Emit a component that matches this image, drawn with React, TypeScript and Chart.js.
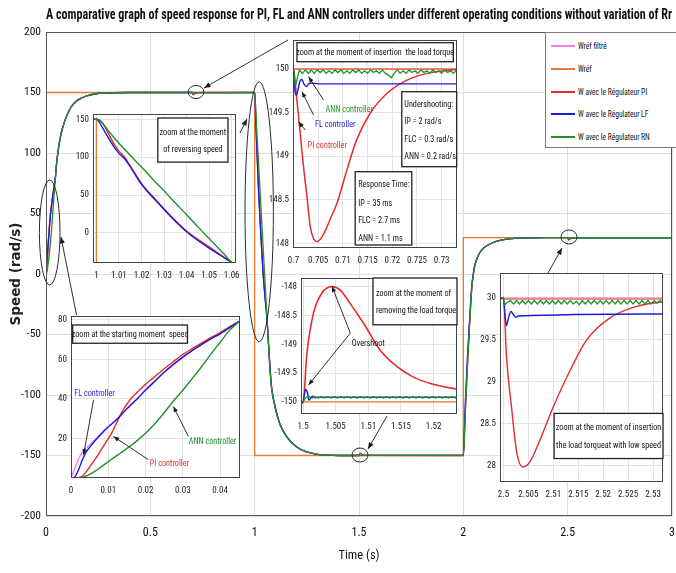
import React, { useEffect, useRef } from "react";
import { Chart, registerables } from "chart.js";

Chart.register(...registerables);

const NARROW = "'Liberation Sans Narrow', 'Arial Narrow', 'Roboto Condensed', 'DejaVu Sans Condensed', sans-serif";
const WIDE = "'DejaVu Sans', Verdana, sans-serif";
const K = 0.86; // horizontal condensing of annotation text

const C_FILT = "#f07ff0";
const C_REF = "#e5793c";
const C_PI = "#e52b2b";
const C_LF = "#1c1cdc";
const C_RN = "#21902a";

const TITLE = "A comparative graph of speed response for PI, FL and ANN controllers under different operating conditions without variation of Rr";
const legendLabels = ["Wréf filtré", "Wréf", "W avec le Régulateur PI", "W avec le Régulateur LF", "W avec le Régulateur RN"];
const legendColors = [C_FILT, C_REF, C_PI, C_LF, C_RN];

// ================= MAIN CHART DATA =================
const mainT = [0, 0.005, 0.01, 0.015, 0.02, 0.025, 0.03, 0.035, 0.04, 0.045, 0.05, 0.06, 0.07, 0.08, 0.1, 0.12, 0.15, 0.2, 0.25, 0.3, 0.4,
  0.7, 0.705, 0.72, 0.75,
  1.0, 1.005, 1.01, 1.02, 1.03, 1.04, 1.05, 1.06, 1.07, 1.08, 1.1, 1.12, 1.15, 1.2, 1.25, 1.3, 1.35, 1.4,
  1.5, 1.505, 1.52, 1.55,
  2.0, 2.005, 2.01, 2.02, 2.03, 2.04, 2.05, 2.06, 2.08, 2.1, 2.15, 2.2, 2.25, 2.3, 2.4,
  2.5, 2.504, 2.52, 2.55, 3.0];
const mainRN = [0, 2, 8.2, 15, 23.5, 33.4, 44.5, 56.3, 68.5, 79.6, 90, 104, 114, 121, 131, 138, 143.5, 147.5, 149.2, 149.8, 150,
  150, 149.95, 149.97, 149.97,
  150, 136, 118.5, 87, 55.5, 24, -7.5, -39, -70, -93, -112, -124, -134, -143, -147, -149, -149.7, -150,
  -150, -149.92, -149.92, -149.92,
  -149.92, -135, -112, -75, -42, -13, 2, 10, 18, 22, 26.5, 28.6, 29.5, 29.9, 30,
  30, 29.95, 29.96, 29.96, 29.96];
const mainLF = [0, 12.5, 24.5, 35, 46, 54, 61.2, 67.5, 73, 79.6, 90, 104, 114, 121, 131, 138, 143.5, 147.5, 149.2, 149.8, 150,
  150, 149.83, 149.83, 149.83,
  149.83, 127, 105, 64, 31, 1.5, -20, -39, -68, -92, -111, -123.5, -133.5, -142.8, -147, -149, -149.7, -150,
  -150, -149.92, -149.92, -149.92,
  -149.92, -128, -105, -68, -38, -11, 3, 10.5, 18, 22, 26.5, 28.6, 29.5, 29.9, 30,
  30, 29.8, 29.8, 29.8, 29.8];
const mainPI = [0, 6, 19.5, 37.5, 47.4, 55.3, 62.5, 68.3, 73.6, 79.6, 90, 104, 114, 121, 131, 138, 143.5, 147.5, 149.2, 149.8, 150,
  150, 148.02, 149.8, 150,
  150, 133, 108, 65.4, 32, 2.6, -18.5, -39, -68, -92, -111, -123.5, -133.5, -142.8, -147, -149, -149.7, -150,
  -150, -148.0, -149.6, -149.9,
  -150, -135, -112, -75, -42, -13, 2, 10, 18, 22, 26.5, 28.6, 29.5, 29.9, 30,
  30, 28.0, 29.7, 29.97, 30];
const mainFilt = [0, 16.8, 25.5, 35, 46, 54, 61.2, 67.5, 73, 79.6, 90, 104, 114, 121, 131, 138, 143.5, 147.5, 149.2, 149.8, 150,
  150, 150, 150, 150,
  150, 127, 105, 64, 31, 1.5, -20, -39, -68, -92, -111, -123.5, -133.5, -142.8, -147, -149, -149.7, -150,
  -150, -150, -150, -150,
  -150, -128, -105, -68, -38, -11, 3, 10.5, 18, 22, 26.5, 28.6, 29.5, 29.9, 30,
  30, 30, 30, 30, 30];
const refT = [0, 0, 1, 1, 2, 2, 3];
const refW = [0, 150, 150, -150, -150, 30, 30];
const mainXTicks = [0, 0.5, 1, 1.5, 2, 2.5, 3];
const mainYTicks = [-200, -150, -100, -50, 0, 50, 100, 150, 200];

// ================= INSET: reversing speed =================
const revT = [0.998, 1.0, 1.0025, 1.005, 1.0075, 1.01, 1.0125, 1.015, 1.02, 1.025, 1.03, 1.035, 1.04, 1.045, 1.05, 1.055, 1.06, 1.065];
const revRN = [150, 150, 145.5, 136, 127, 118.5, 110.5, 102.5, 87, 71, 55.5, 39.5, 24, 8, -7.5, -23, -39, -55];
const revLF = [150, 150, 140, 127, 115, 105, 98, 87.5, 64, 47, 31, 15.5, 1.5, -10, -20, -29.5, -39, -48];
const revPI = [150, 150, 146, 133, 119, 108, 100, 88.5, 65.4, 48, 32, 16.5, 2.6, -8.5, -18.5, -29, -39, -48];
const revRefT = [0.99, 1, 1, 1.07];
const revRefW = [150, 150, -150, -150];
const revXTicks = [1, 1.01, 1.02, 1.03, 1.04, 1.05, 1.06];
const revYTicks = [0, 50, 100, 150];

// ================= INSET: starting moment =================
const startT = [0, 0.001, 0.002, 0.003, 0.004, 0.005, 0.0065, 0.008, 0.0095, 0.011, 0.0125, 0.014, 0.016, 0.018, 0.02, 0.0225, 0.025, 0.0275, 0.03, 0.0325, 0.035, 0.0375, 0.04, 0.0425, 0.0454, 0.047];
const startRN = [0, 0, 0.1, 0.3, 0.9, 1.8, 3.5, 5.5, 7.5, 9.6, 11.6, 13.6, 16.3, 19.3, 22.6, 27.5, 33, 39, 44.4, 50.3, 56.2, 62.6, 68.6, 74.6, 79.6, 82.5];
const startLF = [0, 0.5, 4, 9, 13, 15.5, 19, 22, 25, 27.5, 30, 33, 37, 40.5, 44.5, 49, 53.5, 57.5, 61.2, 64.5, 67.5, 70.4, 73, 76, 79.6, 81.5];
const startPI = [0, 0, 0.2, 0.8, 3, 5.5, 9.5, 14, 18.5, 23, 29, 34.5, 40, 43.8, 47.4, 51.3, 55.3, 59, 62.5, 65.5, 68.3, 71, 73.6, 76.5, 79.6, 81.5];
const startFilt = [0, 4.8, 9.5, 13, 15, 16.8, 19.5, 22.3, 25.1, 27.6, 30, 33, 37, 40.5, 44.5, 49, 53.5, 57.5, 61.2, 64.5, 67.5, 70.4, 73, 76, 79.6, 81.5];
const startRefT = [0, 0, 0.05];
const startRefW = [0, 150, 150];
const startXTicks = [0, 0.01, 0.02, 0.03, 0.04];
const startYTicks = [20, 40, 60, 80];

// ================= INSET: load torque insertion (t = 0.7) =================
const insPI_T = [0.6995, 0.7, 0.7005, 0.7011, 0.7016, 0.7021, 0.7027, 0.7034, 0.7041, 0.7048, 0.7056, 0.7064, 0.7076, 0.7088, 0.7108, 0.7128, 0.7155, 0.7189, 0.7229, 0.727, 0.7336];
const insPI = [150, 150, 149.75, 149.41, 149.12, 148.84, 148.55, 148.19, 148.05, 148.02, 148.06, 148.14, 148.3, 148.46, 148.84, 149.19, 149.49, 149.72, 149.87, 149.95, 150.0];
const insLF_T = [0.6995, 0.7, 0.7003, 0.7006, 0.7009, 0.7013, 0.7017, 0.7021, 0.7026, 0.7031, 0.7036, 0.705, 0.7336];
const insLF = [150, 150, 149.75, 149.7, 149.76, 149.86, 149.88, 149.83, 149.8, 149.83, 149.84, 149.83, 149.83];
const insRN_T = [0.6995, 0.7, 0.7004, 0.7008, 0.7012,
  0.7018, 0.7024, 0.703, 0.7036, 0.7042, 0.7048, 0.7054, 0.706, 0.7066, 0.7072, 0.7078, 0.7084, 0.709, 0.7096, 0.7102, 0.7108, 0.7114, 0.712,
  0.7126, 0.7132, 0.7138, 0.7144, 0.715, 0.7156, 0.7162, 0.7168, 0.7174, 0.718, 0.7186, 0.7192, 0.7198, 0.7204, 0.721, 0.7216, 0.7222, 0.7228,
  0.7234, 0.724, 0.7246, 0.7252, 0.7258, 0.7264, 0.727, 0.7276, 0.7282, 0.7288, 0.7294, 0.73, 0.7306, 0.7312, 0.7318, 0.7324, 0.733, 0.7336];
const insRN = [150, 150, 149.8, 149.9, 149.99,
  149.95, 149.99, 149.95, 149.99, 149.95, 149.99, 149.96, 149.99, 149.95, 149.98, 149.95, 149.99, 149.96, 149.99, 149.95, 149.98, 149.95, 149.99,
  149.96, 149.99, 149.95, 149.98, 149.95, 149.99, 149.96, 149.98, 149.95, 149.99, 149.95, 149.93, 149.9, 149.95, 149.99, 149.95, 149.98, 149.95,
  149.99, 149.96, 149.98, 149.95, 149.99, 149.96, 149.98, 149.95, 149.99, 149.96, 149.98, 149.95, 149.99, 149.96, 149.98, 149.95, 149.99, 149.96];
const insRefT = [0.69, 0.74];
const insRefW = [150, 150];
const insXTicks = [0.7, 0.705, 0.71, 0.715, 0.72, 0.725, 0.73];
const insYTicks = [148, 148.5, 149, 149.5, 150];

// ================= INSET: load torque removal (t = 1.5) =================
const remPI_T = [1.4995, 1.5, 1.5006, 1.5016, 1.5029, 1.5044, 1.5057, 1.5072, 1.5093, 1.5118, 1.5144, 1.5169, 1.5195, 1.524];
const remPI = [-150, -150, -149.16, -148.46, -148.11, -148.0, -148.06, -148.29, -148.64, -149.1, -149.39, -149.57, -149.68, -149.79];
const remLF_T = [1.4995, 1.5, 1.5002, 1.5004, 1.5007, 1.5009, 1.5012, 1.5015, 1.5018, 1.5022, 1.524];
const remLF = [-150.04, -150.0, -149.88, -149.78, -149.85, -149.97, -149.93, -149.9, -149.93, -149.92, -149.92];
const remRN_T = [1.4995, 1.5, 1.5004, 1.5008,
  1.5013, 1.5018, 1.5023, 1.5028, 1.5033, 1.5038, 1.5043, 1.5048, 1.5053, 1.5058, 1.5063, 1.5068, 1.5073, 1.5078, 1.5083, 1.5088,
  1.5093, 1.5098, 1.5103, 1.5108, 1.5113, 1.5118, 1.5123, 1.5128, 1.5133, 1.5138, 1.5143, 1.5148, 1.5153, 1.5158, 1.5163, 1.5168,
  1.5173, 1.5178, 1.5183, 1.5188, 1.5193, 1.5198, 1.5203, 1.5208, 1.5213, 1.5218, 1.5223, 1.5228, 1.5233, 1.5238];
const remRN = [-150, -150, -149.93, -149.9,
  -149.935, -149.91, -149.935, -149.91, -149.935, -149.91, -149.935, -149.91, -149.935, -149.91, -149.935, -149.91, -149.935, -149.91, -149.935, -149.91,
  -149.935, -149.91, -149.935, -149.91, -149.935, -149.91, -149.935, -149.91, -149.935, -149.91, -149.935, -149.91, -149.935, -149.91, -149.935, -149.91,
  -149.935, -149.91, -149.935, -149.91, -149.935, -149.91, -149.935, -149.91, -149.935, -149.91, -149.935, -149.91, -149.935, -149.91];
const remRefT = [1.49, 1.53];
const remRefW = [-150, -150];
const remXTicks = [1.5, 1.505, 1.51, 1.515, 1.52];
const remYTicks = [-150, -149.5, -149, -148.5, -148];

// ================= INSET: low-speed load insertion (t = 2.5) =================
const lowPI_T = [2.499, 2.5, 2.5006, 2.5016, 2.5027, 2.5039, 2.5053, 2.5073, 2.51, 2.5134, 2.5167, 2.5213, 2.5267, 2.5325];
const lowPI = [30, 30, 29.3, 28.7, 28.14, 27.98, 28.04, 28.3, 28.7, 29.14, 29.5, 29.76, 29.9, 29.96];
const lowLF_T = [2.499, 2.5, 2.5003, 2.5006, 2.501, 2.5015, 2.502, 2.5025, 2.503, 2.5325];
const lowLF = [30, 30, 29.8, 29.67, 29.76, 29.84, 29.8, 29.77, 29.785, 29.81];
const lowRN_T = [2.499, 2.5, 2.5003, 2.5008,
  2.5014, 2.502, 2.5026, 2.5032, 2.5038, 2.5044, 2.505, 2.5056, 2.5062, 2.5068, 2.5074, 2.508, 2.5086, 2.5092, 2.5098, 2.5104, 2.511,
  2.5116, 2.5122, 2.5128, 2.5134, 2.514, 2.5146, 2.5152, 2.5158, 2.5164, 2.517, 2.5176, 2.5182, 2.5188, 2.5194, 2.52, 2.5206, 2.5212,
  2.5218, 2.5224, 2.523, 2.5236, 2.5242, 2.5248, 2.5254, 2.526, 2.5266, 2.5272, 2.5278, 2.5284, 2.529, 2.5296, 2.5302, 2.5308, 2.5314, 2.532, 2.5326];
const lowRN = [30, 30, 29.92, 29.95,
  29.97, 29.93, 29.97, 29.93, 29.97, 29.93, 29.97, 29.93, 29.97, 29.93, 29.97, 29.93, 29.97, 29.93, 29.97, 29.93, 29.97,
  29.93, 29.97, 29.93, 29.97, 29.93, 29.96, 29.92, 29.97, 29.93, 29.97, 29.93, 29.97, 29.93, 29.97, 29.93, 29.97, 29.93,
  29.97, 29.93, 29.97, 29.93, 29.97, 29.93, 29.97, 29.93, 29.97, 29.93, 29.97, 29.93, 29.97, 29.93, 29.97, 29.94, 29.97, 29.94, 29.97];
const lowFiltT = [2.49, 2.54];
const lowFilt = [29.985, 29.985];
const lowRefT = [2.49, 2.54];
const lowRefW = [30, 30];
const lowXTicks = [2.5, 2.505, 2.51, 2.515, 2.52, 2.525, 2.53];
const lowYTicks = [28, 28.5, 29, 29.5, 30];

// ================= helpers =================
const fmt = (v: any) => String(Number(Number(v).toFixed(4)));

function line(xs: number[], ys: number[], color: string, width: number, smooth = true) {
  return {
    data: xs.map((x, i) => ({ x, y: ys[i] })),
    borderColor: color,
    backgroundColor: color,
    borderWidth: width,
    pointRadius: 0,
    fill: false,
    tension: 0,
    cubicInterpolationMode: smooth ? "monotone" : "default",
  };
}

function drawArrow(ctx: CanvasRenderingContext2D, x1: number, y1: number, x2: number, y2: number, head: number) {
  ctx.beginPath();
  ctx.moveTo(x1, y1);
  ctx.lineTo(x2, y2);
  ctx.stroke();
  const a = Math.atan2(y2 - y1, x2 - x1);
  ctx.beginPath();
  ctx.moveTo(x2, y2);
  ctx.lineTo(x2 - head * Math.cos(a - 0.38), y2 - head * Math.sin(a - 0.38));
  ctx.lineTo(x2 - head * Math.cos(a + 0.38), y2 - head * Math.sin(a + 0.38));
  ctx.closePath();
  ctx.fill();
}

function condensedText(ctx: CanvasRenderingContext2D, t: string, x: number, y: number, align: CanvasTextAlign) {
  ctx.save();
  ctx.translate(x, y);
  ctx.scale(K, 1);
  ctx.textAlign = align;
  ctx.textBaseline = "middle";
  ctx.fillText(t, 0, 0);
  ctx.restore();
}

function makeAnn(cfg: any, whiteBg: boolean) {
  return {
    id: "annot",
    beforeDraw(chart: any) {
      if (!whiteBg) return;
      const { ctx, chartArea: a } = chart;
      ctx.save();
      ctx.fillStyle = "#ffffff";
      ctx.fillRect(a.left, a.top, a.right - a.left, a.bottom - a.top);
      ctx.restore();
    },
    afterDatasetsDraw(chart: any) {
      const { ctx, chartArea: a, scales } = chart;
      const fx = (f: number) => a.left + f * (a.right - a.left);
      const fy = (f: number) => a.top + f * (a.bottom - a.top);
      const dx = (v: number) => scales.x.getPixelForValue(v);
      const dy = (v: number) => scales.y.getPixelForValue(v);
      ctx.save();
      ctx.strokeStyle = cfg.frame || "#444";
      ctx.lineWidth = 1;
      ctx.strokeRect(Math.round(a.left) + 0.5, Math.round(a.top) + 0.5, Math.round(a.right - a.left) - 1, Math.round(a.bottom - a.top) - 1);

      ctx.strokeStyle = "#2a2a2a";
      ctx.lineWidth = 1;
      (cfg.ellipses || []).forEach((e: any) => {
        const cx = dx(e.x), cy = dy(e.y);
        const rx = Math.abs(dx(e.x + e.rx) - cx), ry = Math.abs(dy(e.y + e.ry) - cy);
        ctx.beginPath();
        ctx.ellipse(cx, cy, rx, ry, 0, 0, Math.PI * 2);
        ctx.stroke();
      });

      (cfg.boxes || []).forEach((b: any) => {
        const x0 = fx(b.x0), y0 = fy(b.y0), x1 = fx(b.x1), y1 = fy(b.y1);
        ctx.fillStyle = "#ffffff";
        ctx.fillRect(x0, y0, x1 - x0, y1 - y0);
        ctx.strokeStyle = "#222";
        ctx.lineWidth = 1.3;
        ctx.strokeRect(x0, y0, x1 - x0, y1 - y0);
        ctx.fillStyle = "#111";
        ctx.font = `${b.size || 9}px ${NARROW}`;
        const left = b.align === "left";
        const tx = left ? fx(b.tx) : (x0 + x1) / 2;
        b.lines.forEach((t: string, i: number) => condensedText(ctx, t, tx, fy(b.ly[i]), left ? "left" : "center"));
      });

      (cfg.labels || []).forEach((l: any) => {
        ctx.fillStyle = l.color;
        ctx.font = `${l.size || 9.5}px ${NARROW}`;
        condensedText(ctx, l.text, fx(l.x), fy(l.y), "center");
      });

      ctx.strokeStyle = "#1a1a1a";
      ctx.fillStyle = "#1a1a1a";
      ctx.lineWidth = 0.9;
      (cfg.arrows || []).forEach((r: any) => {
        const p = cfg.arrowData
          ? [dx(r.from[0]), dy(r.from[1]), dx(r.to[0]), dy(r.to[1])]
          : [fx(r.from[0]), fy(r.from[1]), fx(r.to[0]), fy(r.to[1])];
        drawArrow(ctx, p[0], p[1], p[2], p[3], cfg.head || 6);
      });
      ctx.restore();
    },
  };
}

const noPadX = (h: number) => (s: any) => { s.height = h; s.paddingLeft = 0; s.paddingRight = 0; };
const noPadY = (w: number) => (s: any) => { s.width = w; s.paddingTop = 0; s.paddingBottom = 0; };

// ================= main config =================
const mainAnn = {
  frame: "#555",
  arrowData: true,
  head: 7,
  ellipses: [
    { x: 0.0177, y: 34.3, rx: 0.0494, ry: 43.4 },
    { x: 1.0217, y: 51.4, rx: 0.068, ry: 107.4 },
    { x: 0.7188, y: 150.4, rx: 0.0383, ry: 5.4 },
    { x: 1.5048, y: -149.6, rx: 0.0383, ry: 5.8 },
    { x: 2.5063, y: 30.6, rx: 0.0383, ry: 5.8 },
  ],
  arrows: [
    { from: [1.1597, 193.4], to: [0.7572, 153.7] },
    { from: [0.9297, 116.5], to: [0.9632, 128.1] },
    { from: [0.1462, -33.9], to: [0.0719, 30.6] },
    { from: [1.6342, -117.4], to: [1.5431, -144.6] },
    { from: [2.4058, 0.8], to: [2.4729, 21.5] },
  ],
};

function mainConfig() {
  const datasets = [
    line(mainT, mainRN, C_RN, 1.3),
    line(mainT, mainLF, C_LF, 1.3),
    line(mainT, mainPI, C_PI, 1.3),
    line(refT, refW, C_REF, 1.3, false),
    line(mainT, mainFilt, C_FILT, 1.3),
  ];
  return {
    type: "line",
    data: { datasets },
    options: {
      responsive: false,
      animation: false,
      devicePixelRatio: 1,
      layout: { padding: { left: 0, right: 4, top: 0, bottom: 0 } },
      plugins: {
        legend: { display: false },
        tooltip: { enabled: false },
        title: {
          display: true,
          text: TITLE,
          fullSize: false,
          color: "#111",
          font: { family: NARROW, size: 15, weight: "bold", lineHeight: 1.2 },
          padding: { top: 6, bottom: 8 },
        },
      },
      scales: {
        x: {
          type: "linear",
          min: 0,
          max: 3,
          afterBuildTicks: (s: any) => { s.ticks = mainXTicks.map((value) => ({ value })); },
          afterFit: noPadX(57),
          grid: { color: "#dedede", drawTicks: false, lineWidth: 1 },
          border: { display: false },
          ticks: { padding: 10, color: "#111", font: { family: NARROW, size: 12 }, callback: fmt, maxRotation: 0 },
          title: { display: true, text: "Time (s)", color: "#111", font: { family: NARROW, size: 12.5, lineHeight: 1.2 }, padding: { top: 0, bottom: 9.5 } },
        },
        y: {
          type: "linear",
          min: -200,
          max: 200,
          afterBuildTicks: (s: any) => { s.ticks = mainYTicks.map((value) => ({ value })); },
          afterFit: noPadY(46),
          grid: { color: "#dedede", drawTicks: false, lineWidth: 1 },
          border: { display: false },
          ticks: { padding: 5, color: "#111", font: { family: NARROW, size: 11.5 }, callback: fmt },
          title: { display: true, text: "Speed (rad/s)", color: "#222", font: { family: WIDE, size: 13.5, weight: "bold", lineHeight: 1.2 }, padding: { top: 8, bottom: 0 } },
        },
      },
    },
    plugins: [makeAnn(mainAnn, false)],
  };
}

// ================= inset configs =================
type Rect = { l: number; t: number; r: number; b: number };
const YW = 26, XH = 22, PT = 4, PR = 8;

function insetSpec(rect: Rect, xr: number[], yr: number[], xTicks: number[], yTicks: number[], makeDatasets: () => any[], ann: any) {
  const w = rect.r - rect.l, h = rect.b - rect.t;
  return {
    left: rect.l - YW,
    top: rect.t - PT,
    width: w + YW + PR,
    height: h + PT + XH,
    make: () => ({
      type: "line",
      data: { datasets: makeDatasets() },
      options: {
        responsive: false,
        animation: false,
        devicePixelRatio: 1,
        layout: { padding: { left: 0, right: PR, top: PT, bottom: 0 } },
        plugins: { legend: { display: false }, tooltip: { enabled: false }, title: { display: false } },
        scales: {
          x: {
            type: "linear",
            min: xr[0],
            max: xr[1],
            afterBuildTicks: (s: any) => { s.ticks = xTicks.map((value) => ({ value })); },
            afterFit: noPadX(XH),
            grid: { color: "#e2e2e2", drawTicks: false },
            border: { display: false },
            ticks: { padding: 7, color: "#222", font: { family: NARROW, size: 9 }, callback: fmt, maxRotation: 0, autoSkip: false },
          },
          y: {
            type: "linear",
            min: yr[0],
            max: yr[1],
            afterBuildTicks: (s: any) => { s.ticks = yTicks.map((value) => ({ value })); },
            afterFit: noPadY(YW),
            grid: { color: "#e2e2e2", drawTicks: false },
            border: { display: false },
            ticks: { padding: 4, color: "#222", font: { family: NARROW, size: 9 }, callback: fmt, autoSkip: false },
          },
        },
      },
      plugins: [makeAnn(ann, true)],
    }),
  };
}

const insets = [
  // reversing speed
  insetSpec({ l: 93, t: 114, r: 236, b: 263 }, [0.99849, 1.0619], [-39.7, 157], revXTicks, revYTicks, () => [
    line(revT, revRN, C_RN, 1.4),
    line(revT, revLF, C_LF, 1.4),
    line(revT, revPI, C_PI, 1.4),
    line(revRefT, revRefW, C_REF, 1.4, false),
  ], {
    frame: "#444",
    boxes: [{ x0: 0.4534, y0: 0.0269, x1: 0.9439, y1: 0.3228, lines: ["zoom at the moment", "of reversing speed"], ly: [0.1278, 0.2421], size: 9.5 }],
  }),
  // starting moment
  insetSpec({ l: 71, t: 316, r: 240, b: 478 }, [0, 0.04536], [0, 82], startXTicks, startYTicks, () => [
    line(startT, startRN, C_RN, 1.4),
    line(startT, startLF, C_LF, 1.4),
    line(startT, startPI, C_PI, 1.4),
    line(startRefT, startRefW, C_REF, 1.4, false),
    line(startT, startFilt, C_FILT, 1.4),
  ], {
    frame: "#444",
    head: 6,
    boxes: [{ x0: 0.01, y0: 0.0555, x1: 0.689, y1: 0.1682, lines: ["zoom at the starting moment  speed"], ly: [0.1121], size: 9.5 }],
    labels: [
      { x: 0.1388, y: 0.4763, text: "FL controller", color: C_LF },
      { x: 0.5818, y: 0.9137, text: "PI controller", color: C_PI },
      { x: 0.8376, y: 0.7745, text: "ANN controller", color: C_RN },
    ],
    arrows: [
      { from: [0.1335, 0.5176], to: [0.0744, 0.8564] },
      { from: [0.4584, 0.8872], to: [0.2516, 0.7437] },
      { from: [0.6946, 0.7437], to: [0.606, 0.5588] },
    ],
  }),
  // load torque insertion
  insetSpec({ l: 293, t: 40, r: 457, b: 248 }, [0.6999, 0.7331], [147.947, 150.333], insXTicks, insYTicks, () => [
    line(insRN_T, insRN, C_RN, 1.3, false),
    line(insLF_T, insLF, C_LF, 1.4),
    line(insPI_T, insPI, C_PI, 1.5),
    line(insRefT, insRefW, C_REF, 1.4, false),
    line(insRefT, insRefW, C_FILT, 1.4, false),
  ], {
    frame: "#444",
    head: 6,
    boxes: [
      { x0: 0.0243, y0: 0.013, x1: 0.9775, y1: 0.1043, lines: ["zoom at the moment of insertion  the load torque"], ly: [0.0587], size: 9.5 },
      { x0: 0.6634, y0: 0.2486, x1: 0.9982, y1: 0.6091, lines: ["Undershooting:", "IP = 2 rad/s", "FLC = 0.3 rad/s", "ANN = 0.2 rad/s"], ly: [0.3125, 0.3928, 0.4808, 0.5611], align: "left", tx: 0.6786, size: 9.5 },
      { x0: 0.3792, y0: 0.6332, x1: 0.7243, y1: 0.9856, lines: ["Response Time:", "IP = 35 ms", "FLC = 2.7 ms", "ANN = 1.1 ms"], ly: [0.6971, 0.7851, 0.8688, 0.9534], align: "left", tx: 0.3974, size: 9.5 },
    ],
    labels: [
      { x: 0.3427, y: 0.3365, text: "ANN controller", color: C_RN },
      { x: 0.2575, y: 0.4087, text: "FL controller", color: C_LF },
      { x: 0.2088, y: 0.5096, text: "PI controller", color: C_PI },
    ],
    arrows: [
      { from: [0.1862, 0.2885], to: [0.0949, 0.1764] },
      { from: [0.1254, 0.3606], to: [0.0548, 0.2486] },
      { from: [0.0749, 0.4327], to: [0.0341, 0.3928] },
    ],
  }),
  // load torque removal
  insetSpec({ l: 301, t: 278, r: 457, b: 414 }, [1.49969, 1.52358], [-150.21, -147.85], remXTicks, remYTicks, () => [
    line(remRN_T, remRN, C_RN, 1.3, false),
    line(remLF_T, remLF, C_LF, 1.4),
    line(remPI_T, remPI, C_PI, 1.6),
    line(remRefT, remRefW, C_REF, 1.4, false),
  ], {
    frame: "#444",
    head: 6,
    boxes: [{ x0: 0.4615, y0: 0.0, x1: 1.0, y1: 0.3441, lines: ["zoom at the moment of", "removing the load torque"], ly: [0.1157, 0.2388], align: "left", tx: 0.48, size: 9.5 }],
    labels: [{ x: 0.4314, y: 0.4853, text: "Overshoot", color: "#111" }],
    arrows: [
      { from: [0.316, 0.4053], to: [0.1987, 0.0619] },
      { from: [0.316, 0.4053], to: [0.0487, 0.7863] },
    ],
  }),
  // low speed load insertion
  insetSpec({ l: 500, t: 273, r: 663, b: 482 }, [2.4993, 2.532], [27.8, 30.3], lowXTicks, lowYTicks, () => [
    line(lowRN_T, lowRN, C_RN, 1.3, false),
    line(lowLF_T, lowLF, C_LF, 1.4),
    line(lowPI_T, lowPI, C_PI, 1.4),
    line(lowRefT, lowRefW, C_REF, 1.4, false),
    line(lowFiltT, lowFilt, C_FILT, 1.2, false),
  ], {
    frame: "#444",
    boxes: [{ x0: 0.3319, y0: 0.6718, x1: 1.0, y1: 0.8877, lines: ["zoom at the moment of insertion", "the load torqueat with low speed"], ly: [0.7409, 0.8239], size: 9.5 }],
  }),
];

function ChartBox(props: { make: () => any; left: number; top: number; width: number; height: number }) {
  const ref = useRef<HTMLCanvasElement | null>(null);
  useEffect(() => {
    const c = new Chart(ref.current as HTMLCanvasElement, props.make());
    return () => c.destroy();
  }, []);
  return (
    <canvas
      ref={ref}
      width={props.width}
      height={props.height}
      style={{ position: "absolute", left: props.left, top: props.top, width: props.width, height: props.height }}
    />
  );
}

function Legend() {
  const ys = [13, 35.75, 58.5, 81.25, 104];
  return (
    <div style={{ position: "absolute", left: 545, top: 32, width: 140, height: 116, background: "#fff", border: "1px solid #7a7a7a", boxSizing: "border-box" }}>
      {legendLabels.map((lab, i) => (
        <div key={lab} style={{ position: "absolute", left: 0, top: ys[i] - 6, height: 12, width: 140 }}>
          <div style={{ position: "absolute", left: 5, top: 5, width: 24, height: 2, background: legendColors[i] }} />
          <div style={{ position: "absolute", left: 32, top: 0, lineHeight: "12px", fontSize: 8.5, fontFamily: NARROW, color: "#111", whiteSpace: "nowrap", transform: "scaleX(0.88)", transformOrigin: "left center" }}>{lab}</div>
        </div>
      ))}
    </div>
  );
}

export default function App() {
  return (
    <div style={{ position: "fixed", left: 0, top: 0, width: 676, height: 573, overflow: "hidden", background: "#fff" }}>
      <ChartBox make={mainConfig} left={0} top={0} width={676} height={573} />
      {insets.map((s, i) => (
        <ChartBox key={i} make={s.make} left={s.left} top={s.top} width={s.width} height={s.height} />
      ))}
      <Legend />
    </div>
  );
}
